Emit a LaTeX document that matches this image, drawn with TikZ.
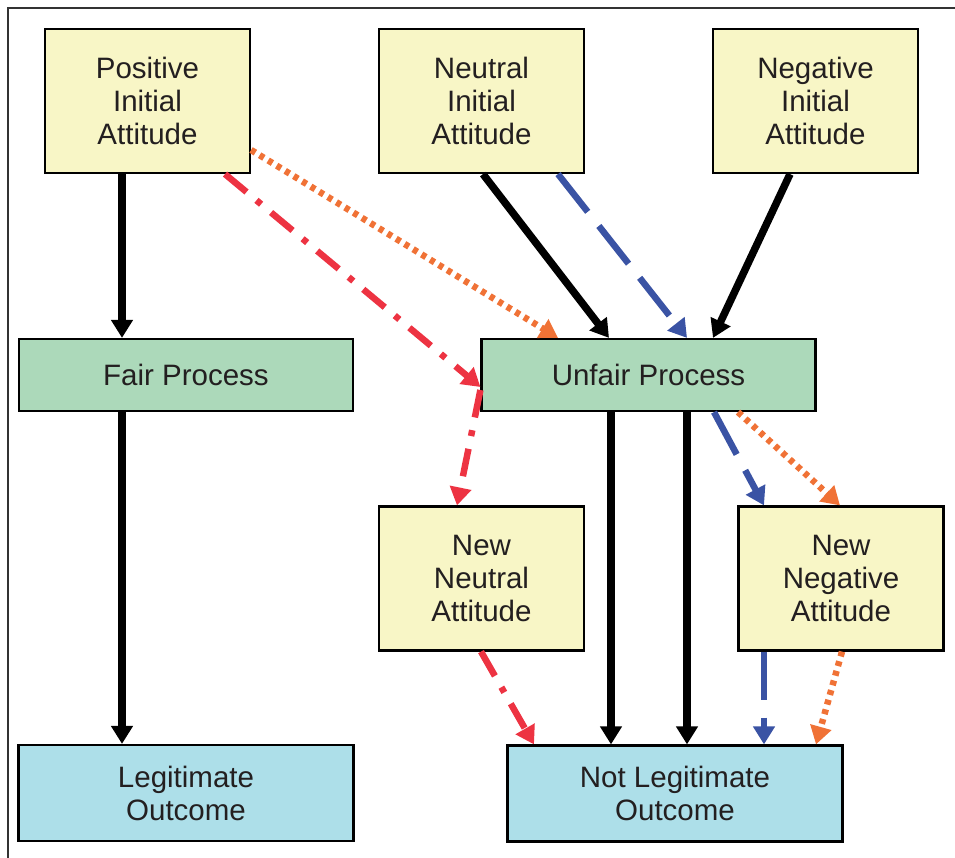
\documentclass[tikz,border=0pt]{standalone}
\usepackage{fontspec}
\setmainfont{Liberation Sans}
\usetikzlibrary{arrows.meta}

\definecolor{attyellow}{RGB}{248,246,198}
\definecolor{procgreen}{RGB}{172,217,186}
\definecolor{outblue}{RGB}{173,223,233}
\definecolor{arrred}{RGB}{237,51,66}
\definecolor{arrorange}{RGB}{240,114,54}
\definecolor{arrblue}{RGB}{58,83,164}
\definecolor{txtgray}{RGB}{35,31,32}

\begin{document}
\begin{tikzpicture}[x=1pt, y=-1pt,
		box/.style={draw, line width=2.2pt, inner sep=0pt, align=center, text=txtgray, font=\fontsize{29.5}{33}\selectfont},
		attbox/.style={box, fill=attyellow, minimum width=205pt, minimum height=144pt},
		procbox/.style={box, fill=procgreen, minimum width=334pt, minimum height=72pt},
		outbox/.style={box, fill=outblue, minimum width=335pt, minimum height=96pt},
		tip/.style={-{Triangle[length=18pt, width=21pt]}},
		blackarrow/.style={tip, line width=7.5pt, black},
		redarrow/.style={tip, line width=6.5pt, arrred, dash pattern=on 28pt off 13pt on 6pt off 13pt},
		bluearrow/.style={tip, line width=6.5pt, arrblue, dash pattern=on 48pt off 18pt},
		orangearrow/.style={tip, line width=6.5pt, arrorange, dash pattern=on 5pt off 5pt}]
		\useasboundingbox (0,0) rectangle (955,858);
		
		% Frame
		\draw[line width=2pt, black!80] (8,858) -- (8,8) -- (955,8);
		
		% Initial attitudes
		\node[attbox] (pos) at (147.5,101) {Positive\\Initial\\Attitude};
		\node[attbox] (neu) at (481.5,101) {Neutral\\Initial\\Attitude};
		\node[attbox] (neg) at (815.5,101) {Negative\\Initial\\Attitude};
		
		% Processes
		\node[procbox] (fair) at (186,375) {Fair Process};
		\node[procbox] (unfair) at (648.5,375) {Unfair Process};
		
		% New attitudes
		\node[attbox] (newneu) at (481.5,578.5) {New\\Neutral\\Attitude};
		\node[attbox] (newneg) at (841,578.5) {New\\Negative\\Attitude};
		
		% Outcomes
		\node[outbox] (legit) at (186,793) {Legitimate\\Outcome};
		\node[outbox] (notlegit) at (675,793.5) {Not Legitimate\\Outcome};
		
		% Fair path
		\draw[blackarrow] ([xshift=-25.5pt]pos.south) -- ([xshift=-64pt]fair.north);
		\draw[blackarrow] ([xshift=-64pt]fair.south) -- ([xshift=-64pt]legit.north);
		
		% Into unfair process
		\draw[orangearrow] ([yshift=-49pt]pos.east) -- ([xshift=-90.5pt]unfair.north);
		\draw[redarrow] ([xshift=77.5pt]pos.south) -- ([yshift=-12pt]unfair.west);
		\draw[blackarrow] ([xshift=1.5pt]neu.south) -- ([xshift=-39.5pt]unfair.north);
		\draw[bluearrow] ([xshift=76.5pt]neu.south) -- ([xshift=38.5pt]unfair.north);
		\draw[blackarrow] ([xshift=-25.5pt]neg.south) -- ([xshift=64.5pt]unfair.north);
		
		% Out of unfair process
		\draw[redarrow] ([yshift=-15pt]unfair.west) -- ([xshift=-24.5pt]newneu.north);
		\draw[blackarrow] ([xshift=-37.5pt]unfair.south) -- ([xshift=-64pt]notlegit.north);
		\draw[blackarrow] ([xshift=38.5pt]unfair.south) -- ([xshift=12pt]notlegit.north);
		\draw[bluearrow] ([xshift=65.5pt]unfair.south) -- ([xshift=-77pt]newneg.north);
		\draw[orangearrow] ([xshift=89.5pt]unfair.south) -- ([xshift=-1pt]newneg.north);
		
		% New attitudes to outcome
		\draw[redarrow] ([xshift=-0.5pt]newneu.south) -- ([xshift=-141pt]notlegit.north);
		\draw[bluearrow] ([xshift=-77pt]newneg.south) -- ([xshift=89pt]notlegit.north);
		\draw[orangearrow] ([xshift=1pt]newneg.south) -- ([xshift=141pt]notlegit.north);
		
	\end{tikzpicture}
\end{document}
